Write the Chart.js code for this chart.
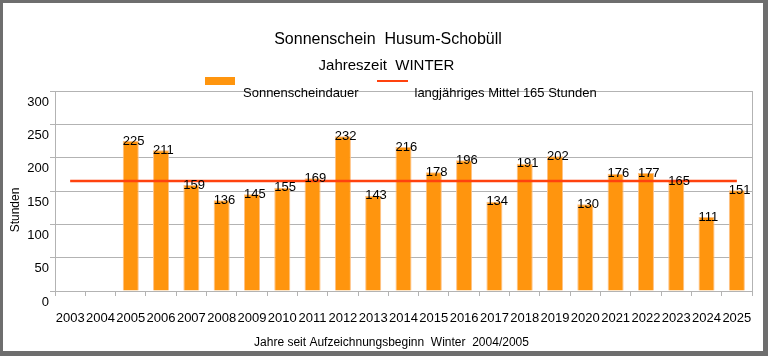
<!DOCTYPE html>
<html>
<head>
<meta charset="utf-8">
<script src="https://cdn.jsdelivr.net/npm/chart.js@4/dist/chart.umd.min.js"></script>
<style>
  html, body { margin: 0; padding: 0; background: #fff; }
  #wrap { position: relative; width: 768px; height: 356px; }
  #c { position: absolute; left: 0; top: 0; }
  #frame { position: absolute; left: 0; top: 0; width: 768px; height: 356px; box-sizing: border-box;
    border-style: solid; border-color: #6e6e6e; border-width: 3px 5px 5px 3px; pointer-events: none; }
</style>
</head>
<body>
<div id="wrap">
  <canvas id="c" width="768" height="356"></canvas>
  <div id="frame"></div>
</div>
<script>
const years = ['2003','2004','2005','2006','2007','2008','2009','2010','2011','2012','2013','2014','2015','2016','2017','2018','2019','2020','2021','2022','2023','2024','2025'];
const sunshineHours = [null,null,225,211,159,136,145,155,169,232,143,216,178,196,134,191,202,130,176,177,165,111,151];
const longTermMean = [165,165,165,165,165,165,165,165,165,165,165,165,165,165,165,165,165,165,165,165,165,165,165];
const yTicks = [0,50,100,150,200,250,300];
const titleText = 'Sonnenschein  Husum-Schobüll';
const subtitleText = 'Jahreszeit  WINTER';
const seriesName = 'Sonnenscheindauer';
const meanName = 'langjähriges Mittel 165 Stunden';
const xTitle = 'Jahre seit Aufzeichnungsbeginn  Winter  2004/2005';
const yTitle = 'Stunden';

const FONT = '"Liberation Sans", Arial, sans-serif';
const ORANGE = '#ff950e';
const RED = '#ff420e';
const GRID = '#b3b3b3';

const decor = {
  id: 'decor',
  beforeDatasetsDraw(chart) {
    const {ctx, chartArea} = chart;
    ctx.save();
    ctx.strokeStyle = GRID; ctx.lineWidth = 1;
    ctx.beginPath();
    ctx.moveTo(Math.round(chartArea.right) + 0.5, chartArea.top);
    ctx.lineTo(Math.round(chartArea.right) + 0.5, chartArea.bottom);
    ctx.stroke();
    ctx.restore();
  },
  afterDatasetsDraw(chart) {
    const {ctx} = chart;
    ctx.save();
    // bar value labels
    const meta = chart.getDatasetMeta(0);
    ctx.fillStyle = '#000';
    ctx.font = '13px ' + FONT;
    ctx.textAlign = 'left';
    ctx.textBaseline = 'middle';
    meta.data.forEach((bar, i) => {
      const v = sunshineHours[i];
      if (v == null) return;
      ctx.fillText(String(v), bar.x - bar.width / 2, bar.y);
    });
    ctx.restore();
  },
  afterDraw(chart) {
    const {ctx} = chart;
    ctx.save();
    ctx.fillStyle = '#000';
    ctx.textBaseline = 'middle';
    ctx.textAlign = 'center';
    ctx.font = '16px ' + FONT;
    ctx.fillText(titleText, 388, 40);
    ctx.font = '15px ' + FONT;
    ctx.fillText(subtitleText, 386.5, 66);
    // legend
    ctx.fillStyle = ORANGE;
    ctx.fillRect(205, 77, 30, 8);
    ctx.strokeStyle = RED; ctx.lineWidth = 2;
    ctx.beginPath(); ctx.moveTo(377, 81); ctx.lineTo(408, 81); ctx.stroke();
    ctx.fillStyle = '#000';
    ctx.textAlign = 'left';
    ctx.font = '13px ' + FONT;
    ctx.fillText(seriesName, 243, 93);
    ctx.fillText(meanName, 414.5, 93);
    // axis titles
    ctx.textAlign = 'center';
    ctx.font = '12px ' + FONT;
    ctx.fillText(xTitle, 391.5, 343);
    ctx.translate(16, 210);
    ctx.rotate(-Math.PI / 2);
    ctx.fillText(yTitle, 0, 0);
    ctx.restore();
  }
};

new Chart(document.getElementById('c'), {
  data: {
    labels: years,
    datasets: [
      {
        type: 'bar',
        label: seriesName,
        data: sunshineHours,
        backgroundColor: ORANGE,
        borderColor: '#ffc285',
        borderWidth: 1,
        barPercentage: 0.53,
        categoryPercentage: 1,
        order: 2
      },
      {
        type: 'line',
        label: meanName,
        data: longTermMean,
        borderColor: RED,
        borderWidth: 2.4,
        pointRadius: 0,
        fill: false,
        order: 1
      }
    ]
  },
  options: {
    responsive: false,
    animation: false,
    devicePixelRatio: 1,
    layout: { padding: { left: 0, top: 91, right: 16, bottom: 0 } },
    plugins: { legend: { display: false }, title: { display: false }, tooltip: { enabled: false } },
    scales: {
      x: {
        offset: true,
        grid: { offset: true, drawOnChartArea: false, drawTicks: true, tickLength: 5, color: GRID },
        border: { display: true, color: GRID },
        ticks: { color: '#000', font: { family: FONT, size: 13 }, padding: 15, autoSkip: false, maxRotation: 0, minRotation: 0 },
        afterFit(scale) { scale.height = 65; }
      },
      y: {
        min: 0, max: 300,
        afterBuildTicks(scale) { scale.ticks = yTicks.map(v => ({ value: v })); },
        grid: { color: GRID, tickLength: 5, drawTicks: true },
        border: { display: true, color: GRID },
        ticks: { color: '#000', font: { family: FONT, size: 13 }, padding: 1, labelOffset: 11 },
        afterFit(scale) { scale.width = 55; }
      }
    }
  },
  plugins: [decor]
});
</script>
</body>
</html>
